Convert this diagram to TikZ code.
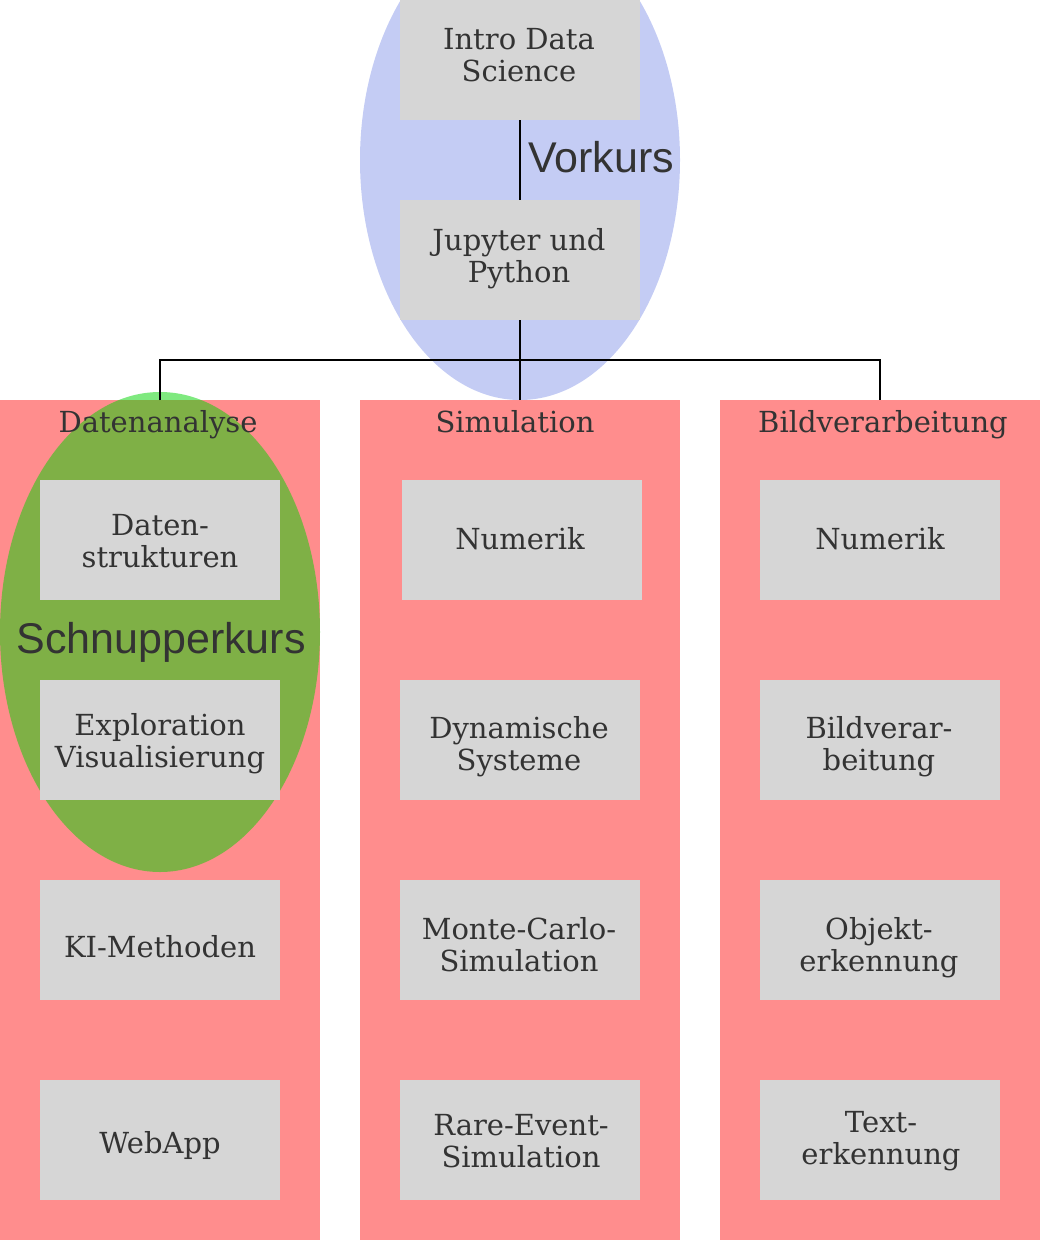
\documentclass[tikz,border=0pt]{standalone}
\usepackage{fontspec}
\newfontfamily\slab{DejaVu Serif}
\newfontfamily\sansl{Liberation Sans}
\definecolor{panelred}{RGB}{255,141,141}
\definecolor{boxgray}{RGB}{214,214,214}
\definecolor{txt}{RGB}{51,51,51}
\definecolor{vorblue}{RGB}{196,204,244}
\definecolor{schgreen}{RGB}{0,212,0}
\tikzset{
  modbox/.style={fill=boxgray, minimum width=240pt, minimum height=120pt, inner sep=0pt},
  modtext/.style={anchor=base, align=center, inner sep=0pt, text=txt, font={\slab\fontsize{29}{32}\selectfont}},
  ptitle/.style={anchor=base, text=txt, inner sep=0pt, font={\slab\fontsize{29}{32}\selectfont}},
  biglabel/.style={anchor=base, text=txt, inner sep=0pt, font={\sansl\fontsize{43}{48}\selectfont}},
  conn/.style={draw=black, line width=2pt}
}
\begin{document}
\begin{tikzpicture}[x=1pt,y=-1pt]
\useasboundingbox (0,0) rectangle (1040,1240);
% Vorkurs ellipse
\fill[vorblue] (520,160) ellipse [x radius=160, y radius=240];
% panels
\fill[panelred] (0,400) rectangle (320,1240);
\fill[panelred] (360,400) rectangle (680,1240);
\fill[panelred] (720,400) rectangle (1040,1240);
% Schnupperkurs ellipse
\fill[schgreen, fill opacity=0.5] (160,632) ellipse [x radius=160, y radius=240];
% top nodes
\node[modbox] (intro) at (520,60) {};
\node[modbox] (jup) at (520,260) {};
% panel anchors
\coordinate (pda) at (160,400);
\coordinate (psi) at (520,400);
\coordinate (pbv) at (880,400);
\coordinate (split) at (520,360);
% connectors
\draw[conn] (intro.south) -- (jup.north);
\draw[conn] (jup.south) -- (psi);
\draw[conn] (pda) -- (pda |- split) -- (pbv |- split) -- (pbv);
% titles
\node[ptitle] (tda) at (158,432) {Datenanalyse};
\node[ptitle] (tsi) at (515,432) {Simulation};
\node[ptitle] (tbv) at (883,432) {Bildverarbeitung};
% boxes
\node[modbox] (d1) at (160,540) {};
\node[modbox] (d2) at (160,740) {};
\node[modbox] (d3) at (160,940) {};
\node[modbox] (d4) at (160,1140) {};
\node[modbox] (s1) at (522,540) {};
\node[modbox] (s2) at (520,740) {};
\node[modbox] (s3) at (520,940) {};
\node[modbox] (s4) at (520,1140) {};
\node[modbox] (b1) at (880,540) {};
\node[modbox] (b2) at (880,740) {};
\node[modbox] (b3) at (880,940) {};
\node[modbox] (b4) at (880,1140) {};
% box texts (anchored at the baseline of the last line)
\node[modtext] (tintro) at (519,81) {Intro Data\\Science};
\node[modtext] (tjup) at (519,282) {Jupyter und\\Python};
\node[modtext] (td1) at (160,567) {Daten-\\strukturen};
\node[modtext] (td2) at (160,767) {Exploration\\Visualisierung};
\node[modtext] (td3) at (160,957) {KI-Methoden};
\node[modtext] (td4) at (160,1153) {WebApp};
\node[modtext] (ts1) at (520,549) {Numerik};
\node[modtext] (ts2) at (519,770) {Dynamische\\Systeme};
\node[modtext] (ts3) at (519,971) {Monte-Carlo-\\Simulation};
\node[modtext] (ts4) at (521,1167) {Rare-Event-\\Simulation};
\node[modtext] (tb1) at (880,549) {Numerik};
\node[modtext] (tb2) at (879,770) {Bildverar-\\beitung};
\node[modtext] (tb3) at (879,971) {Objekt-\\erkennung};
\node[modtext] (tb4) at (881,1164) {Text-\\erkennung};
% big labels
\node[biglabel] (vk) at (601,172) {Vorkurs};
\node[biglabel] (sk) at (161,653) {Schnupperkurs};
\end{tikzpicture}
\end{document}
